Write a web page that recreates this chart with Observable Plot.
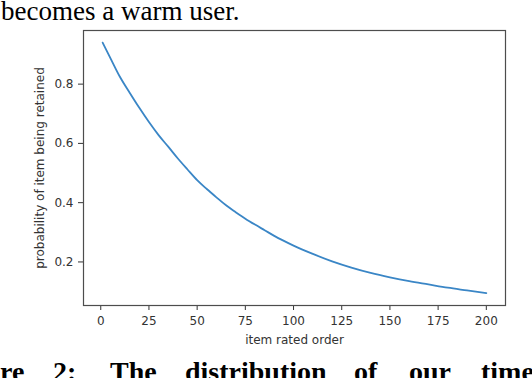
<!DOCTYPE html>
<html>
<head>
<meta charset="utf-8">
<script src="https://cdn.jsdelivr.net/npm/d3@7"></script>
<script src="https://cdn.jsdelivr.net/npm/@observablehq/plot@0.6"></script>
<style>
  html, body { margin: 0; padding: 0; background: #fff; }
  #wrap { position: relative; width: 532px; height: 378px; overflow: hidden; background: #fff; }
  #wrap svg { position: absolute; left: 0; top: 0; }
  .serif { position: absolute; font-family: "Liberation Serif", "Times New Roman", serif; line-height: 1; white-space: nowrap; color: #000; }
  .top { font-size: 27px; left: 1px; top: 0.7px; line-height: 0.8; }
  .cap { font-size: 28px; font-weight: bold; top: 358px; }
</style>
</head>
<body>
<div id="wrap"></div>
<script>
// Values
const itemOrder = [1, 5, 10, 15, 20, 25, 30, 35, 40, 45, 50, 55, 60, 65, 70, 75, 80, 85, 90, 95, 100, 110, 120, 130, 140, 150, 160, 170, 180, 190, 200];
const retained  = [0.94, 0.888, 0.824, 0.771, 0.72, 0.672, 0.628, 0.589, 0.549, 0.512, 0.476, 0.446, 0.418, 0.391, 0.368, 0.346, 0.326, 0.307, 0.288, 0.271, 0.255, 0.227, 0.202, 0.181, 0.163, 0.148, 0.135, 0.124, 0.113, 0.104, 0.095];
const xTicks = [0, 25, 50, 75, 100, 125, 150, 175, 200];
const yTicks = [0.2, 0.4, 0.6, 0.8];
const xLabel = "item rated order";
const yLabel = "probability of item being retained";
const topText = "becomes a warm user.";
const captionWords = ["re", "2:", "The", "distribution", "of", "our", "time"];
const captionLefts = [0, 53, 110, 185, 354, 409, 481];

const data = itemOrder.map((x, i) => ({x, y: retained[i]}));

const chart = Plot.plot({
  width: 532,
  height: 378,
  marginLeft: 83,
  marginRight: 27,
  marginTop: 30,
  marginBottom: 73,
  style: {fontFamily: "'DejaVu Sans', sans-serif", fontSize: "12px", color: "#333", background: "transparent"},
  x: {domain: [-8.95, 209.95], nice: false},
  y: {domain: [0.053, 0.981], nice: false},
  marks: [
    Plot.axisX({ticks: xTicks, tickSize: 5, tickPadding: 6, label: xLabel, labelArrow: "none", labelAnchor: "center", labelOffset: 38, fontSize: 12}),
    Plot.axisY({ticks: yTicks, tickSize: 5, tickPadding: 5, label: yLabel, labelArrow: "none", labelAnchor: "center", labelOffset: 48, fontSize: 12}),
    Plot.line(data, {x: "x", y: "y", stroke: "#3a86c6", strokeWidth: 1.8, curve: "monotone-x"}),
    Plot.frame({stroke: "#4d4d4d", strokeWidth: 1.2})
  ]
});

const wrap = document.getElementById("wrap");
wrap.appendChild(chart);

const t = document.createElement("div");
t.className = "serif top";
t.textContent = topText;
wrap.appendChild(t);

captionWords.forEach((w, i) => {
  const s = document.createElement("div");
  s.className = "serif cap";
  s.style.left = captionLefts[i] + "px";
  s.textContent = w;
  wrap.appendChild(s);
});
</script>
</body>
</html>
